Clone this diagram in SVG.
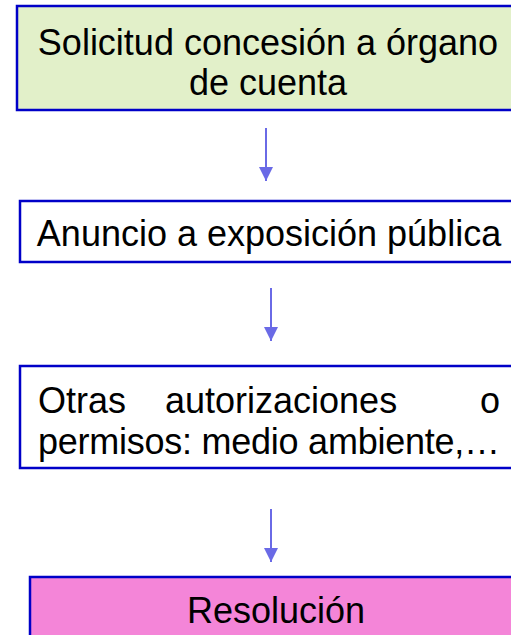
<svg xmlns="http://www.w3.org/2000/svg" width="511" height="635" viewBox="0 0 511 635">
<defs>
<style>
.box{stroke:#0000c8;stroke-width:2.5}
.t{font-family:"Liberation Sans",Arial,sans-serif;font-size:36px;fill:#000}
.c{stroke:#6a6ae6;stroke-width:2;fill:none}
</style>
<marker id="ah" viewBox="0 0 10 10" refX="10" refY="5" markerWidth="7" markerHeight="7" markerUnits="strokeWidth" orient="auto">
<path d="M0,0L10,5L0,10Z" fill="#6a6ae6"/>
</marker>
</defs>
<rect width="511" height="635" fill="#fff"/>
<g id="connectors">
<line class="c" x1="266" y1="128" x2="266" y2="181" marker-end="url(#ah)"/>
<line class="c" x1="271" y1="288" x2="271" y2="341" marker-end="url(#ah)"/>
<line class="c" x1="271" y1="509" x2="271" y2="562" marker-end="url(#ah)"/>
</g>
<g id="n1">
<rect class="box" x="17" y="6" width="510" height="104" fill="#e2f0c9"/>
<text class="t" x="268" y="55" text-anchor="middle">Solicitud concesión a órgano</text>
<text class="t" x="268" y="95" text-anchor="middle">de cuenta</text>
</g>
<g id="n2">
<rect class="box" x="20" y="201" width="510" height="61" fill="#fff"/>
<text class="t" x="269" y="246" text-anchor="middle">Anuncio a exposición pública</text>
</g>
<g id="n3">
<rect class="box" x="20" y="366" width="510" height="102" fill="#fff"/>
<text class="t" x="38" y="413">Otras</text>
<text class="t" x="165" y="413">autorizaciones</text>
<text class="t" x="500" y="413" text-anchor="end">o</text>
<text class="t" x="38" y="454" textLength="462" lengthAdjust="spacing">permisos: medio ambiente,…</text>
</g>
<g id="n4">
<rect class="box" x="30" y="577" width="510" height="80" fill="#f485d8"/>
<text class="t" x="276" y="623" text-anchor="middle">Resolución</text>
</g>
</svg>
